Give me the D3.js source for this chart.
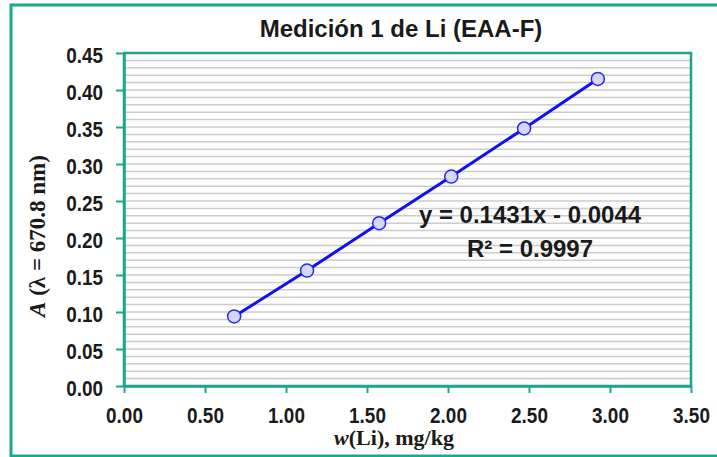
<!DOCTYPE html>
<html><head><meta charset="utf-8">
<script src="https://cdn.jsdelivr.net/npm/d3@7"></script>
<style>
html,body{margin:0;padding:0;background:#fff;}
svg{display:block;}
</style></head>
<body>
<script>
const title = "Medición 1 de Li (EAA-F)";
const xValues = [0.68, 1.13, 1.575, 2.02, 2.47, 2.925];
const yValues = [0.094, 0.156, 0.220, 0.283, 0.348, 0.415];
const xTickValues = [0, 0.5, 1.0, 1.5, 2.0, 2.5, 3.0, 3.5];
const yTickValues = [0, 0.05, 0.10, 0.15, 0.20, 0.25, 0.30, 0.35, 0.40, 0.45];
const gridValues = d3.range(1, 45).map(i => i / 100);
const equationText = "y = 0.1431x - 0.0044";
const r2Text = "R² = 0.9997";

const W = 717, H = 457;
const teal = "#1ea58c";
const svg = d3.select("body").append("svg").attr("width", W).attr("height", H);

// outer frame
svg.append("rect").attr("x", 11).attr("y", 5).attr("width", W + 20).attr("height", 451)
  .attr("fill", "#fff").attr("stroke", teal).attr("stroke-width", 3);

const x = d3.scaleLinear().domain([0, 3.5]).range([124, 691]);
const y = d3.scaleLinear().domain([0, 0.45]).range([386, 53]);

// plot area background
svg.append("rect").attr("x", x(0)).attr("y", y(0.45)).attr("width", x(3.5) - x(0)).attr("height", y(0) - y(0.45))
  .attr("fill", "#fdfdfd");

// gridlines
svg.append("g").selectAll("line").data(gridValues).join("line")
  .attr("x1", x(0)).attr("x2", x(3.5))
  .attr("y1", d => y(d)).attr("y2", d => y(d))
  .attr("stroke", "#cdcdcd").attr("stroke-width", 1.5);

// plot border
svg.append("rect").attr("x", x(0)).attr("y", y(0.45)).attr("width", x(3.5) - x(0)).attr("height", y(0) - y(0.45))
  .attr("fill", "none").attr("stroke", teal).attr("stroke-width", 2.5);

const fmt = d3.format(".2f");
const tickFont = "'Liberation Sans', Arial, sans-serif";

// y axis
const gy = svg.append("g").attr("transform", `translate(${x(0)},0)`)
  .call(d3.axisLeft(y).tickValues(yTickValues).tickFormat(fmt).tickSize(8).tickSizeOuter(0));
gy.select(".domain").attr("stroke", teal).attr("stroke-width", 2.5);
gy.selectAll(".tick line").attr("stroke", teal).attr("stroke-width", 2);
gy.selectAll(".tick text")
  .attr("x", -21 / 0.86).attr("dy", "0.45em")
  .attr("transform", "scale(0.86,1)")
  .style("font-family", tickFont).style("font-weight", "bold").style("font-size", "22px").attr("fill", "#1a1a1a");

// x axis
const gx = svg.append("g").attr("transform", `translate(0,${y(0)})`)
  .call(d3.axisBottom(x).tickValues(xTickValues).tickFormat(fmt).tickSize(7).tickSizeOuter(0));
gx.select(".domain").attr("stroke", teal).attr("stroke-width", 2.5);
gx.selectAll(".tick line").attr("stroke", teal).attr("stroke-width", 2);
gx.selectAll(".tick text")
  .attr("y", 37).attr("dy", 0)
  .attr("transform", "scale(0.86,1)")
  .style("font-family", tickFont).style("font-weight", "bold").style("font-size", "22px").attr("fill", "#1a1a1a");

// title
svg.append("text").attr("x", 401).attr("y", 37).attr("text-anchor", "middle")
  .style("font-family", tickFont).style("font-weight", "bold").style("font-size", "24px").attr("fill", "#1a1a1a")
  .text(title);

// axis titles
const serif = "'Liberation Serif', 'Times New Roman', serif";
const xt = svg.append("text").attr("x", 394).attr("y", 445).attr("text-anchor", "middle")
  .style("font-family", serif).style("font-weight", "bold").style("font-size", "22px").attr("fill", "#1a1a1a");
xt.append("tspan").style("font-style", "italic").text("w");
xt.append("tspan").text("(Li), mg/kg");

const yt = svg.append("text").attr("transform", "translate(45,236) rotate(-90)").attr("text-anchor", "middle")
  .style("font-family", serif).style("font-weight", "bold").style("font-size", "23px").attr("fill", "#1a1a1a");
yt.append("tspan").style("font-style", "italic").text("A");
yt.append("tspan").text(" (λ = 670.8 nm)");

// data line
const pts = xValues.map((v, i) => [v, yValues[i]]);
svg.append("path").datum(pts)
  .attr("d", d3.line().x(d => x(d[0])).y(d => y(d[1])))
  .attr("fill", "none").attr("stroke", "#1010f0").attr("stroke-width", 3);
svg.append("g").selectAll("circle").data(pts).join("circle")
  .attr("cx", d => x(d[0])).attr("cy", d => y(d[1])).attr("r", 6.5)
  .attr("fill", "#d4d8ff").attr("stroke", "#2828f0").attr("stroke-width", 1.5);

// equation
const eqStyle = s => s.attr("text-anchor", "middle")
  .style("font-family", tickFont).style("font-weight", "bold").style("font-size", "24px").attr("fill", "#1a1a1a");
svg.append("text").attr("x", 530).attr("y", 223).call(eqStyle).text(equationText);
svg.append("text").attr("x", 530).attr("y", 257).call(eqStyle).text(r2Text);
</script>
</body></html>
